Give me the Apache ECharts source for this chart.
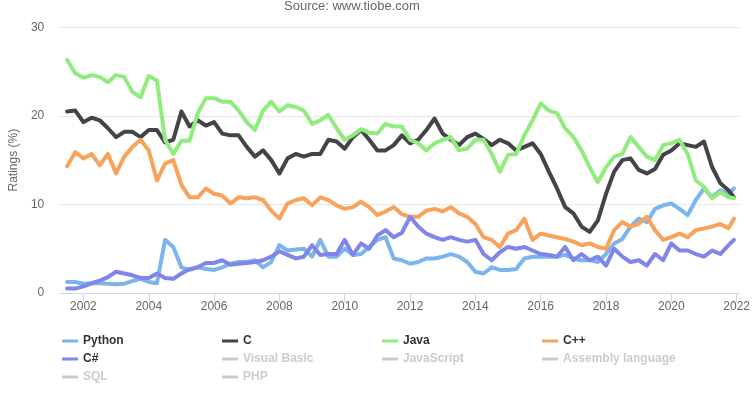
<!DOCTYPE html>
<html>
<head>
<meta charset="utf-8">
<script src="https://cdn.jsdelivr.net/npm/echarts@6/dist/echarts.min.js"></script>
<style>
html,body{margin:0;padding:0;background:#fff;}
#chart{width:753px;height:395px;}
</style>
</head>
<body>
<div id="chart"></div>
<script>
// Quarterly readings from Jul 2001 to Oct 2021, plus the last point at Dec 2021
const firstYear = 2001.5;
const stepYears = 0.25;
const lastYear = 2021.917;

const python = [1.25,1.25,1.05,1.1,1.1,1.05,1.0,1.05,1.35,1.6,1.25,1.1,6.0,5.2,2.9,2.6,2.9,2.7,2.6,2.9,3.3,
  3.5,3.5,3.7,2.9,3.5,5.4,4.8,4.9,5.0,4.1,6.0,4.1,4.1,5.0,4.3,4.4,5.2,6.0,6.3,3.9,3.7,
  3.3,3.5,3.9,3.9,4.1,4.4,4.1,3.5,2.4,2.2,2.9,2.6,2.6,2.7,3.9,4.1,4.1,4.1,4.1,4.3,3.9,
  3.7,3.7,3.5,4.4,5.6,6.1,7.5,8.4,8.0,9.5,9.9,10.1,9.5,8.8,10.5,11.8,10.8,11.6,11.2,11.8];

const cLang = [20.5,20.6,19.3,19.8,19.5,18.6,17.6,18.2,18.2,17.6,18.4,18.4,17.0,17.3,20.5,18.8,19.5,18.9,19.3,18.0,17.8,
  17.8,16.5,15.4,16.1,15.0,13.5,15.2,15.7,15.4,15.7,15.7,17.3,17.1,16.3,17.6,18.4,17.3,16.1,16.1,16.7,17.8,
  16.9,17.3,18.4,19.7,18.0,17.3,16.7,17.6,18.0,17.4,16.7,17.3,16.9,16.1,16.5,16.9,15.7,13.7,11.8,9.7,9.0,
  7.5,6.9,8.2,11.2,13.7,15.0,15.2,13.9,13.5,14.0,15.6,16.1,16.9,16.7,16.5,17.1,14.2,12.4,11.6,10.8];

const java = [26.3,24.8,24.3,24.6,24.4,23.8,24.6,24.4,22.7,22.1,24.5,24.0,17.3,15.7,17.2,17.2,20.3,22.0,22.0,21.6,21.6,
  20.6,19.3,18.4,20.6,21.6,20.5,21.2,21.0,20.6,19.1,19.5,20.1,18.6,17.3,17.8,18.5,18.1,18.0,19.1,18.8,18.8,
  17.3,16.9,16.1,16.9,17.3,17.6,16.1,16.3,17.3,17.3,15.7,13.7,15.6,15.7,17.8,19.5,21.4,20.6,20.3,18.6,17.6,
  16.1,14.2,12.5,14.2,15.4,15.7,17.6,16.5,15.4,15.0,16.7,16.9,17.3,15.7,12.7,12.0,10.7,11.4,10.8,10.7];

const cpp = [14.3,15.9,15.2,15.7,14.4,15.7,13.5,15.4,16.5,17.3,16.1,12.7,14.6,15.0,12.2,10.8,10.8,11.8,11.2,11.0,10.1,
  10.8,10.7,10.8,10.5,9.3,8.4,10.1,10.5,10.7,9.9,10.8,10.5,9.9,9.5,9.7,10.3,9.7,8.8,9.2,9.7,8.9,
  8.6,8.6,9.3,9.5,9.2,9.7,9.0,8.6,7.8,6.3,6.0,5.2,6.7,7.1,8.4,6.0,6.7,6.5,6.3,6.1,5.8,
  5.4,5.6,5.2,5.0,7.1,8.0,7.5,7.8,8.6,7.1,6.0,6.3,6.7,6.3,7.1,7.3,7.5,7.8,7.3,8.4];

const csharp = [0.5,0.5,0.75,1.1,1.4,1.8,2.4,2.2,2.0,1.7,1.7,2.2,1.7,1.6,2.2,2.7,2.9,3.4,3.4,3.7,3.2,
  3.3,3.4,3.5,3.7,4.1,4.7,4.3,3.9,4.1,5.4,4.3,4.4,4.4,6.0,4.3,5.6,5.0,6.5,7.1,6.3,6.8,
  8.6,7.5,6.7,6.3,6.0,6.3,6.0,5.8,6.0,4.4,3.7,4.6,5.2,5.0,5.2,4.8,4.4,4.3,4.1,5.2,3.7,
  4.4,3.7,4.1,3.1,5.0,4.1,3.5,3.7,3.1,4.4,3.7,5.6,4.8,4.8,4.4,4.1,4.8,4.4,5.4,6.0];

const seriesNames = ['Python','C','Java','C++','C#','Visual Basic','JavaScript','Assembly language','SQL','PHP'];
const seriesColors = ['#7cb5ec','#434348','#90ed7d','#f7a35c','#8085e9','#f15c80','#e4d354','#2b908f','#f45b5b','#91e8e1'];
const hiddenNames = ['Visual Basic','JavaScript','Assembly language','SQL','PHP'];
const yearTicks = [2002,2004,2006,2008,2010,2012,2014,2016,2018,2020,2022];
const yTicks = [0,10,20,30];

const dates = [];
for (let i = 0; i < python.length - 1; i++) dates.push(firstYear + i * stepYears);
dates.push(lastYear);

const valuesByName = {
  'Python': python, 'C': cLang, 'Java': java, 'C++': cpp, 'C#': csharp,
  'Visual Basic': [], 'JavaScript': [], 'Assembly language': [], 'SQL': [], 'PHP': []
};

const FONT = '"Liberation Sans", Arial, sans-serif';
const chart = echarts.init(document.getElementById('chart'), null, {renderer: 'canvas'});

const selected = {};
hiddenNames.forEach(n => selected[n] = false);

chart.setOption({
  animation: false,
  color: seriesColors,
  title: {
    text: 'Source: www.tiobe.com',
    left: 284, top: 0, padding: 0,
    textStyle: {fontSize: 13, fontWeight: 'normal', color: '#666666', fontFamily: FONT}
  },
  grid: {left: 59, right: 12, top: 27.3, bottom: 102, containLabel: false},
  legend: {
    data: seriesNames,
    selected: selected,
    left: 62, top: 332, width: 645,
    orient: 'horizontal',
    padding: 0,
    itemGap: 0,
    itemWidth: 16, itemHeight: 3,
    icon: 'rect',
    inactiveColor: '#cccccc',
    textStyle: {fontSize: 12, fontWeight: 'bold', color: '#333333', fontFamily: FONT, width: 139, lineHeight: 18}
  },
  xAxis: {
    type: 'value',
    min: 2001.29, max: 2022.08,
    axisLine: {show: true, lineStyle: {color: '#ccd6eb', width: 1}},
    axisTick: {show: true, length: 9, customValues: yearTicks, lineStyle: {color: '#ccd6eb'}},
    axisLabel: {customValues: yearTicks, color: '#666666', fontSize: 12, fontFamily: FONT, margin: 8,
      formatter: v => String(Math.round(v))},
    splitLine: {show: false}
  },
  yAxis: {
    type: 'value',
    min: yTicks[0], max: yTicks[yTicks.length - 1], interval: 10,
    name: 'Ratings (%)',
    nameLocation: 'middle',
    nameRotate: 90,
    nameGap: 40,
    nameTextStyle: {color: '#666666', fontSize: 12, fontFamily: FONT},
    axisLine: {show: false},
    axisTick: {show: false},
    axisLabel: {color: '#666666', fontSize: 12, fontFamily: FONT, margin: 16},
    splitLine: {lineStyle: {color: '#e6e6e6', width: 1}}
  },
  series: seriesNames.map((name, idx) => ({
    name: name,
    type: 'line',
    showSymbol: false,
    symbol: 'none',
    smooth: false,
    lineStyle: {width: 4, color: seriesColors[idx], cap: 'round', join: 'round'},
    itemStyle: {color: seriesColors[idx]},
    emphasis: {disabled: true},
    data: valuesByName[name].map((v, i) => [dates[i], v])
  }))
});
</script>
</body>
</html>
